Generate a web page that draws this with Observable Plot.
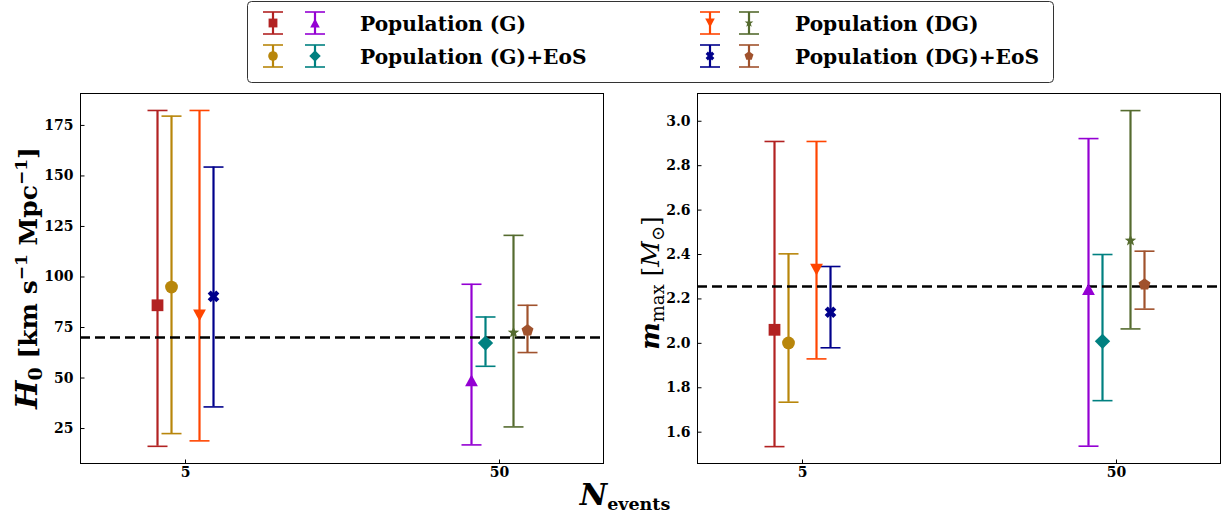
<!DOCTYPE html>
<html><head><meta charset="utf-8">
<script src="https://cdn.jsdelivr.net/npm/d3@7"></script>
<script src="https://cdn.jsdelivr.net/npm/@observablehq/plot@0.6"></script>
<style>
body{margin:0;background:#fff;}
#wrap{position:relative;width:1230px;height:516px;overflow:hidden;background:#fff;}
#left,#right{position:absolute;top:83px;}
#left{left:0}
#right{left:615px}
#overlay{position:absolute;left:0;top:0;pointer-events:none;}
</style></head><body>
<div id="wrap"><div id="left"></div><div id="right"></div><svg id="overlay" width="1230" height="516"></svg></div>
<script>
// ---------------- data ----------------
const populations = ["G", "G+EoS", "DG", "DG+EoS"];
const legendLabels = ["Population (G)", "Population (G)+EoS", "Population (DG)", "Population (DG)+EoS"];
const nEventsTicks = [5, 50];

const seriesPop = ["G", "G+EoS", "DG", "DG+EoS", "G", "G+EoS", "DG", "DG+EoS"];
const seriesN = [5, 5, 5, 5, 50, 50, 50, 50];
const seriesColor = ["#b22222", "#b8860b", "#ff4500", "#00008b", "#9400d3", "#008080", "#556b2f", "#a0522d"];
const seriesMarker = ["square", "circle", "triangle-down", "x", "triangle", "diamond", "star", "pentagon"];

const h0Median = [86.0, 95.0, 81.0, 90.4, 48.8, 67.3, 72.5, 73.6];
const h0Lower  = [16.2, 22.5, 18.9, 35.7, 16.9, 55.8, 25.8, 62.6];
const h0Upper  = [182.4, 179.6, 182.4, 154.4, 96.4, 80.2, 120.6, 86.0];
const h0True = 70;
const h0Ticks = [25, 50, 75, 100, 125, 150, 175];

const mMedian = [2.061, 2.002, 2.332, 2.140, 2.244, 2.009, 2.463, 2.265];
const mLower  = [1.535, 1.735, 1.930, 1.980, 1.537, 1.742, 2.065, 2.154];
const mUpper  = [2.909, 2.403, 2.909, 2.346, 2.922, 2.400, 3.048, 2.415];
const mTrue = 2.256;
const mTicks = [1.6, 1.8, 2.0, 2.2, 2.4, 2.6, 2.8, 3.0];

// ---------------- symbols ----------------
function sym(fn) { return { draw(c, size) { fn(c, Math.sqrt(size / Math.PI)); } }; }
function poly(c, pts) { c.moveTo(pts[0][0], pts[0][1]); for (let i = 1; i < pts.length; i++) c.lineTo(pts[i][0], pts[i][1]); c.closePath(); }
const symbols = {
  square: sym((c, R) => { const s = 0.92 * R; c.rect(-s, -s, 2 * s, 2 * s); }),
  circle: sym((c, R) => { c.moveTo(R, 0); c.arc(0, 0, R, 0, 2 * Math.PI); }),
  triangle: sym((c, R) => { const w = R, h = 0.92 * R; poly(c, [[0, -h], [w, h], [-w, h]]); }),
  "triangle-down": sym((c, R) => { const w = R, h = 0.92 * R; poly(c, [[0, h], [w, -h], [-w, -h]]); }),
  diamond: sym((c, R) => { const d = 1.2 * R; poly(c, [[0, -d], [d, 0], [0, d], [-d, 0]]); }),
  star: sym((c, R) => { const o = 0.95 * R, n = o * 0.42, pts = [];
    for (let k = 0; k < 10; k++) { const a = -Math.PI / 2 + k * Math.PI / 5, r = k % 2 ? n : o; pts.push([r * Math.cos(a), r * Math.sin(a)]); }
    poly(c, pts); }),
  x: sym((c, R) => { const L = 0.95 * R, t = 0.34 * R, a = Math.PI / 4;
    const pts = [[t, -L], [t, -t], [L, -t], [L, t], [t, t], [t, L], [-t, L], [-t, t], [-L, t], [-L, -t], [-t, -t], [-t, -L]]
      .map(([x, y]) => [x * Math.cos(a) - y * Math.sin(a), x * Math.sin(a) + y * Math.cos(a)]);
    poly(c, pts); }),
  pentagon: sym((c, R) => { const o = 0.98 * R, pts = [];
    for (let k = 0; k < 5; k++) { const a = -Math.PI / 2 + k * 2 * Math.PI / 5; pts.push([o * Math.cos(a), o * Math.sin(a)]); }
    poly(c, pts); })
};
const capSym = sym((c, R) => { c.moveTo(-R, 0); c.lineTo(R, 0); });
const yTickSym = { draw(c) { c.moveTo(0, 0); c.lineTo(4, 0); } };
const xTickSym = { draw(c) { c.moveTo(0, 0); c.lineTo(0, -4); } };

// horizontal offset of each population around its N (in decades of the log axis)
const DEC_STEP = 14 / 314;
function slotOf(pop) { const k = populations.indexOf(pop); return k < 2 ? k - 2 : k - 1; }

function rowsFor(med, lo, hi) {
  return seriesPop.map((pop, i) => ({
    pop, n: seriesN[i], color: seriesColor[i], marker: seriesMarker[i],
    xpos: seriesN[i] * Math.pow(10, slotOf(pop) * DEC_STEP),
    med: med[i], lo: lo[i], hi: hi[i]
  }));
}

function panel(el, rows, { truth, domain, ticks, fmt, marginLeft, marginRight }) {
  const chart = Plot.plot({
    width: 615, height: 433, marginTop: 10, marginBottom: 53, marginLeft, marginRight,
    style: { fontFamily: "'DejaVu Serif', serif", fontSize: "14px", fontWeight: "bold", color: "black", background: "white", overflow: "visible" },
    x: { type: "log", domain: [2.315, 107.2], axis: null },
    y: { domain, axis: null },
    color: { type: "identity" },
    marks: [
      Plot.text(nEventsTicks.map(n => ({ n })), { x: "n", text: d => String(d.n), frameAnchor: "bottom", lineAnchor: "top", dy: 4, fill: "black" }),
      Plot.text(ticks.map(v => ({ v })), { y: "v", text: d => fmt(d.v), frameAnchor: "left", textAnchor: "end", dx: -7, fill: "black" }),
      Plot.dot(nEventsTicks.map(n => ({ n })), { x: "n", frameAnchor: "bottom", symbol: xTickSym, stroke: "black", fill: "none", strokeWidth: 1 }),
      Plot.dot(ticks.map(v => ({ v })), { y: "v", frameAnchor: "left", symbol: yTickSym, stroke: "black", fill: "none", strokeWidth: 1 }),
      Plot.ruleX(rows, { x: "xpos", y1: "lo", y2: "hi", stroke: "color", strokeWidth: 2.2 }),
      Plot.dot(rows, { x: "xpos", y: "lo", symbol: capSym, r: 10, stroke: "color", fill: "none", strokeWidth: 1.6 }),
      Plot.dot(rows, { x: "xpos", y: "hi", symbol: capSym, r: 10, stroke: "color", fill: "none", strokeWidth: 1.6 }),
      Plot.ruleY([truth], { stroke: "black", strokeWidth: 2.5, strokeDasharray: "10,5" }),
      ...rows.map(r => Plot.dot([r], { x: "xpos", y: "med", symbol: symbols[r.marker], r: 6.4, fill: r.color, stroke: "none" })),
      Plot.frame({ stroke: "black", strokeWidth: 1 })
    ]
  });
  document.getElementById(el).appendChild(chart);
}

panel("left", rowsFor(h0Median, h0Lower, h0Upper),
  { truth: h0True, domain: [7.7, 190.8], ticks: h0Ticks, fmt: d => String(d), marginLeft: 80, marginRight: 12 });
panel("right", rowsFor(mMedian, mLower, mUpper),
  { truth: mTrue, domain: [1.459, 3.125], ticks: mTicks, fmt: d => d.toFixed(1), marginLeft: 82, marginRight: 10 });

// ---------------- overlay: legend & labels ----------------
const svg = d3.select("#overlay");
const serif = "'DejaVu Serif', serif";

svg.append("rect").attr("x", 247.5).attr("y", 1.5).attr("width", 806).attr("height", 81)
  .attr("rx", 4).attr("fill", "white").attr("stroke", "#333").attr("stroke-width", 1);

const legendPos = [
  { mx: [273, 315], tx: 360, y: 23 },
  { mx: [273, 315], tx: 360, y: 56 },
  { mx: [710, 749], tx: 795, y: 23 },
  { mx: [710, 749], tx: 795, y: 56 }
];
populations.forEach((pop, pi) => {
  const pos = legendPos[pi];
  nEventsTicks.forEach((n, ni) => {
    const i = seriesPop.findIndex((p, k) => p === pop && seriesN[k] === n);
    const g = svg.append("g").attr("transform", `translate(${pos.mx[ni]},${pos.y})`);
    const col = seriesColor[i];
    g.append("line").attr("x1", 0).attr("x2", 0).attr("y1", -11).attr("y2", 11).attr("stroke", col).attr("stroke-width", 2.2);
    g.append("line").attr("x1", -10).attr("x2", 10).attr("y1", -11).attr("y2", -11).attr("stroke", col).attr("stroke-width", 1.6);
    g.append("line").attr("x1", -10).attr("x2", 10).attr("y1", 11).attr("y2", 11).attr("stroke", col).attr("stroke-width", 1.6);
    const p = d3.path();
    symbols[seriesMarker[i]].draw(p, Math.PI * 4.8 * 4.8);
    g.append("path").attr("d", p.toString()).attr("fill", col);
  });
  svg.append("text").attr("x", pos.tx).attr("y", pos.y + 7.5)
    .attr("font-family", serif).attr("font-weight", "bold").attr("font-size", 20.2)
    .attr("fill", "black").text(legendLabels[pi]);
});

// left y label: H_0 [km s^-1 Mpc^-1]
const yl = svg.append("text").attr("transform", "translate(37,278) rotate(-90)")
  .attr("text-anchor", "middle").attr("font-family", serif).attr("font-weight", "bold").attr("font-size", 25).attr("fill", "black");
yl.append("tspan").attr("font-style", "italic").attr("font-size", 30).text("H");
yl.append("tspan").attr("font-size", 19).attr("dy", 5).text("0");
yl.append("tspan").attr("dy", -5).text(" [km s");
yl.append("tspan").attr("font-size", 17).attr("dy", -10).text("\u22121");
yl.append("tspan").attr("dy", 10).text(" Mpc");
yl.append("tspan").attr("font-size", 17).attr("dy", -10).text("\u22121");
yl.append("tspan").attr("dy", 10).text("]");

// right y label: m_max [M_sun]
const yr = svg.append("text").attr("transform", "translate(659,283) rotate(-90)")
  .attr("text-anchor", "middle").attr("font-family", serif).attr("font-size", 25).attr("fill", "black");
yr.append("tspan").attr("font-style", "italic").attr("font-weight", "bold").attr("font-size", 26).text("m");
yr.append("tspan").attr("font-size", 18).attr("dy", 5).text("max");
yr.append("tspan").attr("dy", -5).text(" [");
yr.append("tspan").attr("font-style", "italic").text("M");
yr.append("tspan").attr("font-size", 18).attr("dy", 5).text("\u2299");
yr.append("tspan").attr("dy", -5).text("]");

// x label: N_events
const xl = svg.append("text").attr("x", 625).attr("y", 505).attr("text-anchor", "middle")
  .attr("font-family", serif).attr("font-weight", "bold").attr("fill", "black");
xl.append("tspan").attr("font-style", "italic").attr("font-size", 30).text("N");
xl.append("tspan").attr("font-size", 17.5).attr("dy", 5).text("events");
</script>
</body></html>
